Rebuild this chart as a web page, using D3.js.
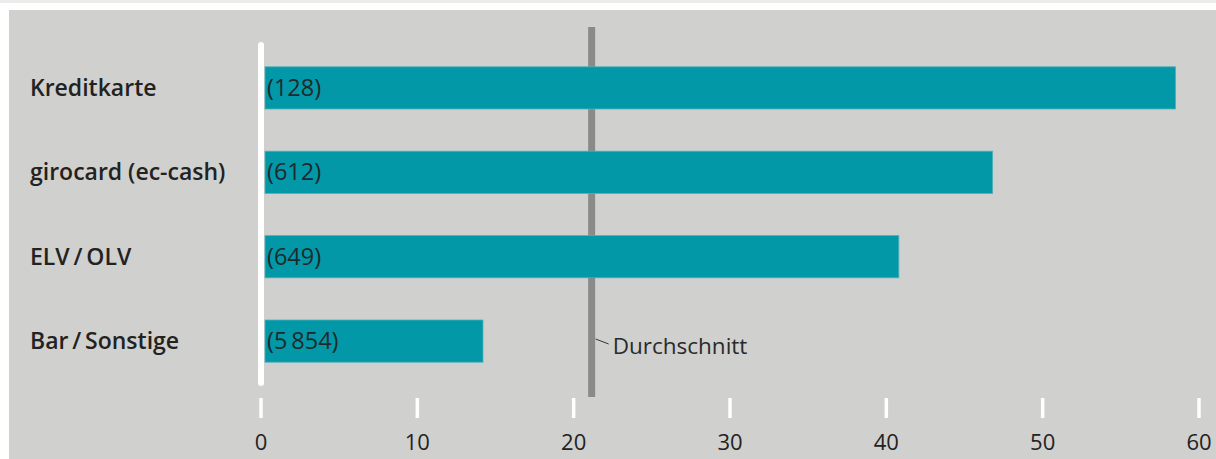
<!DOCTYPE html>
<html>
<head>
<meta charset="utf-8">
<script src="https://cdn.jsdelivr.net/npm/d3@7"></script>
<style>
  html, body { margin: 0; padding: 0; background: #fff; }
  svg { display: block; font-family: "Open Sans", sans-serif; }
</style>
</head>
<body>
<div id="chart"></div>
<script>
var categories = ["Kreditkarte", "girocard (ec-cash)", "ELV\u2009/\u2009OLV", "Bar\u2009/\u2009Sonstige"];
var shares = [58.5, 46.8, 40.8, 14.2];
var counts = ["(128)", "(612)", "(649)", "(5\u2009854)"];
var average = 21.15;
var averageLabel = "Durchschnitt";
var tickValues = [0, 10, 20, 30, 40, 50, 60];

(function() {
    var svg = d3.select("#chart").append("svg")
        .attr("width", 1216)
        .attr("height", 459);

    // top rule and panel
    svg.append("rect")
        .attr("x", 0).attr("y", 0).attr("width", 1216).attr("height", 3)
        .attr("fill", "#ececec");
    svg.append("rect")
        .attr("x", 9).attr("y", 10).attr("width", 1207).attr("height", 449)
        .attr("fill", "#d0d0ce");

    var x = d3.scaleLinear().domain([0, 60]).range([261, 1199]);
    var y = d3.scaleBand()
        .domain(d3.range(categories.length))
        .range([44, 385])
        .paddingInner(0.5)
        .paddingOuter(0.27);

    // average line (behind bars)
    svg.append("line")
        .attr("x1", x(average)).attr("x2", x(average))
        .attr("y1", 27).attr("y2", 397)
        .attr("stroke", "#8a8a88")
        .attr("stroke-width", 7);

    // bars
    svg.selectAll(".bar")
        .data(shares)
        .enter().append("rect")
            .attr("class", "bar")
            .attr("x", x(0) + 4)
            .attr("y", function(d, i) { return y(i); })
            .attr("width", function(d) { return x(d) - x(0) - 4; })
            .attr("height", y.bandwidth())
            .attr("fill", "#0298a7")
            .attr("stroke", "#4fb1bb")
            .attr("stroke-width", 0.8);

    // zero line
    svg.append("line")
        .attr("x1", x(0)).attr("x2", x(0))
        .attr("y1", 45).attr("y2", 383)
        .attr("stroke", "#fff")
        .attr("stroke-width", 6)
        .attr("stroke-linecap", "round");

    svg.append("line")
        .attr("x1", x(average) + 4).attr("x2", x(average) + 17)
        .attr("y1", 339).attr("y2", 344)
        .attr("stroke", "#333")
        .attr("stroke-width", 1);

    svg.append("text")
        .attr("x", x(average) + 21)
        .attr("y", 354)
        .attr("fill", "#2a2a2a")
        .style("font-size", "22.5px")
        .text(averageLabel);

    // category labels
    svg.selectAll(".cat")
        .data(categories)
        .enter().append("text")
            .attr("class", "cat")
            .attr("x", 30)
            .attr("y", function(d, i) { return y(i) + y.bandwidth() / 2 + 8; })
            .attr("fill", "#222")
            .style("font-size", "23px")
            .style("font-weight", 600)
            .text(function(d) { return d; });

    // counts inside bars
    svg.selectAll(".count")
        .data(counts)
        .enter().append("text")
            .attr("class", "count")
            .attr("x", x(0) + 6)
            .attr("y", function(d, i) { return y(i) + y.bandwidth() / 2 + 8; })
            .attr("fill", "#1e2a2c")
            .style("font-size", "23.5px")
            .text(function(d) { return d; });

    // x axis ticks
    var axis = svg.append("g");
    axis.selectAll(".tick")
        .data(tickValues)
        .enter().append("line")
            .attr("x1", function(d) { return x(d); })
            .attr("x2", function(d) { return x(d); })
            .attr("y1", 398).attr("y2", 418)
            .attr("stroke", "#fff")
            .attr("stroke-width", 3.5);
    axis.selectAll(".tlabel")
        .data(tickValues)
        .enter().append("text")
            .attr("x", function(d) { return x(d); })
            .attr("y", 450)
            .attr("text-anchor", "middle")
            .attr("fill", "#222")
            .style("font-size", "22px")
            .text(function(d) { return d; });
})();
</script>
</body>
</html>
